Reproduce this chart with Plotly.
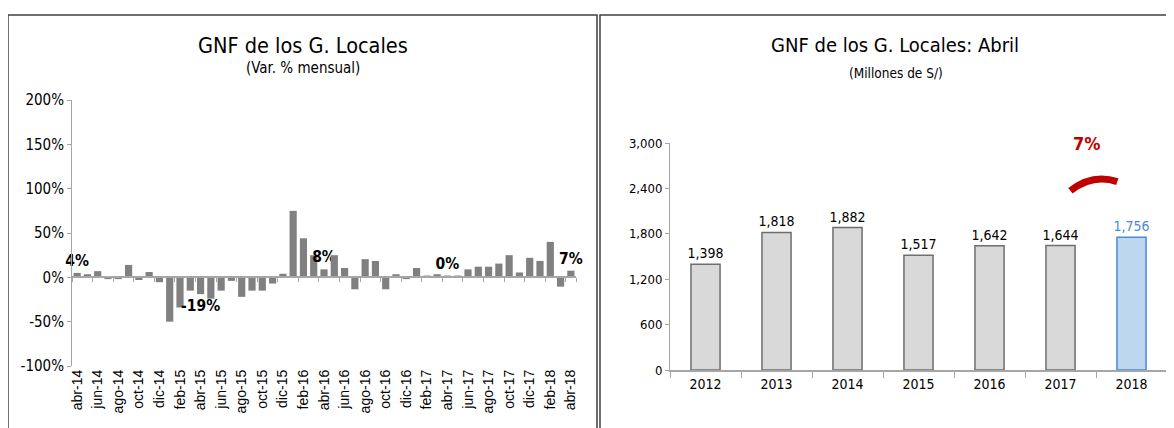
import plotly.graph_objects as go

W, H = 1174, 428
OFF = 8  # margen por defecto del <body> de la pagina

# --- datos ---
meses = ["ene", "feb", "mar", "abr", "may", "jun", "jul", "ago", "sep", "oct", "nov", "dic"]
periodos = []
for anio in range(14, 19):
    for m in meses:
        periodos.append(f"{m}-{anio}")
periodos = periodos[3:52]  # abr-14 ... abr-18

var_mensual = [
    5, 3.5, 7, -2, -2, 14, -3, 6, -5.5,                         # abr-14 .. dic-14
    -50, -34, -15, -19, -24, -15, -4, -22, -15, -15, -7, 4,      # 2015
    75, 44, 25, 9, 25, 10.5, -13.5, 20.5, 18.5, -13.5, 3.5, -2,  # 2016
    10.5, 2, 3.5, 2, 2, 9, 12, 12, 15.5, 25, 5.5, 22,            # 2017
    18.5, 40, -10.5, 7.5,                                        # ene-18 .. abr-18
]
etiquetas = {"abr-14": "4%", "abr-15": "-19%", "abr-16": "8%", "abr-17": "0%", "abr-18": "7%"}
ticks_pct = [-100, -50, 0, 50, 100, 150, 200]

anios = [2012, 2013, 2014, 2015, 2016, 2017, 2018]
gnf_abril = [1398, 1818, 1882, 1517, 1642, 1644, 1756]
ticks_mill = [0, 600, 1200, 1800, 2400, 3000]
var_2018 = "7%"

NARROW = "DejaVu Sans Condensed, Liberation Sans Narrow, Arial Narrow, Liberation Sans, Arial, sans-serif"
ARIAL = "Liberation Sans, Arial, sans-serif"

def px_x(p):
    return (p - OFF) / W

def px_y(p):
    return (H - (p - OFF)) / H

x_idx = list(range(len(periodos)))
textos = ["<b>" + etiquetas[p] + "</b>" if p in etiquetas else "" for p in periodos]

fig = go.Figure()

# grafico izquierdo: variacion mensual
fig.add_trace(go.Bar(
    x=x_idx, y=var_mensual, marker_color="#808080", marker_line_width=0,
    text=textos, textposition="outside", textangle=0, cliponaxis=False,
    constraintext="none",
    textfont=dict(family=NARROW, size=15.5, color="black"),
    xaxis="x", yaxis="y", showlegend=False, hoverinfo="skip",
))
# eje auxiliar en la linea del cero (marcas cada 2 meses)
fig.add_trace(go.Scatter(x=[0], y=[0], mode="markers", marker_opacity=0,
                         xaxis="x3", yaxis="y", showlegend=False, hoverinfo="skip"))

# grafico derecho: abril de cada anio
colores = ["#D9D9D9"] * (len(anios) - 1) + ["#BDD7EE"]
bordes = ["#6E6E6E"] * (len(anios) - 1) + ["#4A8BD0"]
col_txt = ["black"] * (len(anios) - 1) + ["#4A8BD0"]
fig.add_trace(go.Bar(
    x=anios, y=gnf_abril, width=0.41,
    marker=dict(color=colores, line=dict(color=bordes, width=1.5)),
    text=[f"{v:,}" for v in gnf_abril], textposition="outside", textangle=0, cliponaxis=False,
    constraintext="none",
    textfont=dict(family=NARROW, size=14, color=col_txt),
    xaxis="x2", yaxis="y2", showlegend=False, hoverinfo="skip",
))

zero_pos = px_y(366) + (px_y(100) - px_y(366)) * (100 / 300)

fig.update_layout(
    width=W, height=H, autosize=False,
    margin=dict(l=0, r=0, t=0, b=0),
    paper_bgcolor="white", plot_bgcolor="white",
    bargap=0.3,
    xaxis=dict(
        domain=[px_x(72), px_x(576)], anchor="y", automargin=False,
        range=[-0.5, len(periodos) - 0.5],
        tickmode="array", tickvals=x_idx[::2], ticktext=periodos[::2],
        tickangle=-90, ticks="", showline=False, showgrid=False, zeroline=False,
        tickfont=dict(family=ARIAL, size=14, color="black"),
    ),
    xaxis3=dict(
        domain=[px_x(72), px_x(576)], overlaying="x", anchor="free", position=zero_pos,
        automargin=False, range=[-0.5, len(periodos) - 0.5],
        tickmode="array", tickvals=[i - 0.5 for i in x_idx[::2]] + [len(periodos) - 0.5],
        ticks="outside", ticklen=4, tickcolor="#A6A6A6",
        showticklabels=False, showline=True, linecolor="#A6A6A6", linewidth=1.5,
        showgrid=False, zeroline=False,
    ),
    yaxis=dict(
        domain=[px_y(366), px_y(100)], anchor="x", automargin=False,
        range=[-100, 200], tickmode="array", tickvals=ticks_pct,
        ticktext=[f"{v}%" for v in ticks_pct],
        ticks="outside", ticklen=4, tickcolor="#A6A6A6",
        showline=True, linecolor="#A6A6A6", linewidth=1,
        showgrid=False, zeroline=False,
        tickfont=dict(family=NARROW, size=15, color="black"),
    ),
    xaxis2=dict(
        domain=[px_x(670), px_x(1167)], anchor="y2", automargin=False,
        range=[2011.5, 2018.5], tickmode="array", tickvals=anios,
        ticks="", showline=True, linecolor="#A6A6A6", linewidth=1.5,
        showgrid=False, zeroline=False,
        minor=dict(tickmode="array", tickvals=[a - 0.5 for a in anios] + [2018.5],
                   ticks="outside", ticklen=6, tickcolor="#A6A6A6"),
        tickfont=dict(family=NARROW, size=14, color="black"),
    ),
    yaxis2=dict(
        domain=[px_y(370), px_y(143)], anchor="x2", automargin=False,
        range=[0, 3000], tickmode="array", tickvals=ticks_mill,
        ticktext=[f"{v:,}" for v in ticks_mill],
        ticks="outside", ticklen=4, tickcolor="#A6A6A6",
        showline=True, linecolor="#A6A6A6", linewidth=1,
        showgrid=False, zeroline=False,
        tickfont=dict(family=NARROW, size=13, color="black"),
    ),
)

# titulos
def titulo(texto, x, y, size):
    fig.add_annotation(text=texto, xref="paper", yref="paper", x=px_x(x), y=px_y(y),
                       xanchor="center", yanchor="middle", showarrow=False,
                       font=dict(family=NARROW, size=size, color="black"))

titulo("GNF de los G. Locales", 303, 45, 21.5)
titulo("(Var. % mensual)", 303, 68, 15)
titulo("GNF de los G. Locales: Abril", 895, 45, 20)
titulo("(Millones de S/)", 896, 73, 13.5)

# crecimiento 2018 vs 2017
fig.add_annotation(text="<b>" + var_2018 + "</b>", xref="x2", yref="y2",
                   x=2017.38, y=3000, xanchor="center", yanchor="middle", showarrow=False,
                   font=dict(family=NARROW, size=18, color="#C00000"))
fig.add_shape(type="path", xref="x2", yref="y2",
              path="M 2017.14,2370 Q 2017.45,2600 2017.8,2490",
              line=dict(color="#C00000", width=7))

# marcos de los paneles
fig.add_shape(type="rect", xref="paper", yref="paper",
              x0=px_x(8), x1=px_x(597), y0=-0.2, y1=px_y(15),
              line=dict(color="#404040", width=1.5))
fig.add_shape(type="rect", xref="paper", yref="paper",
              x0=px_x(600), x1=1.1, y0=-0.2, y1=px_y(15),
              line=dict(color="#404040", width=1.5))

fig.write_html("out.html")
